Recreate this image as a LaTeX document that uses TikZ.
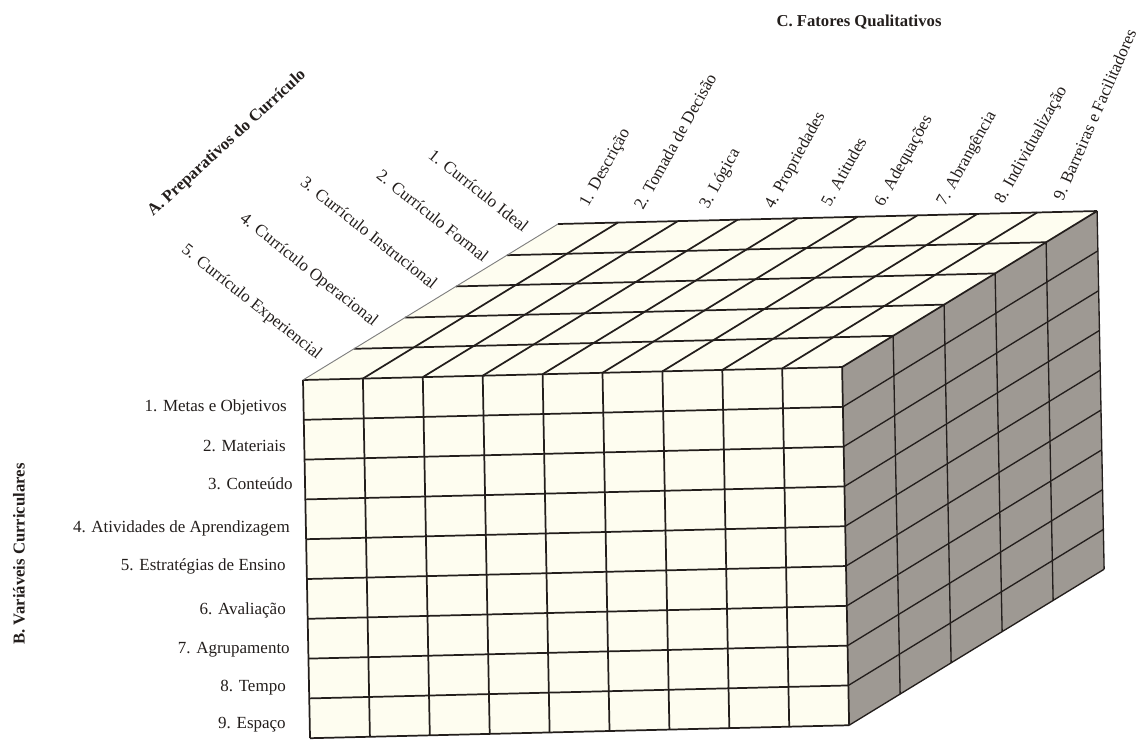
\documentclass[tikz,border=0pt]{standalone}
\usepackage{fontspec}
\setmainfont{Liberation Serif}
\definecolor{cream}{RGB}{254,253,240}
\definecolor{sidegray}{RGB}{158,153,147}
\definecolor{ink}{RGB}{35,30,28}
\begin{document}
\begin{tikzpicture}[x=0.75pt,y=-0.75pt,
  lbl/.style={font=\fontsize{12.75}{15}\selectfont, inner sep=0pt, text=ink},
  hdr/.style={font=\fontsize{12.5}{15}\selectfont\bfseries, inner sep=0pt, text=ink},
  alab/.style={lbl, anchor=base east, rotate=-38.5},
  clab/.style={lbl, anchor=base west, rotate=61},
  rlab/.style={lbl, anchor=base east},
  gridline/.style={draw=ink, line width=1.3pt},
  sideline/.style={draw=ink, line width=1pt}]
\useasboundingbox (0,0) rectangle (1148,742);
% cube
\begin{scope}[shift={(303,380)}, x={(44.925pt,1.08pt)}, y={(0.585pt,-29.85pt)}, z={(38.25pt,23.4pt)}]
  \fill[cream] (0,0,0) -- (9,0,0) -- (9,9,0) -- (0,9,0) -- cycle;
  \fill[cream] (0,0,0) -- (9,0,0) -- (9,0,5) -- (0,0,5) -- cycle;
  \fill[sidegray] (9,0,0) -- (9,0,5) -- (9,9,5) -- (9,9,0) -- cycle;
  \foreach \k in {1,...,5} \draw[sideline] (9,0,\k) -- (9,9,\k);
  \foreach \j in {1,...,9} \draw[sideline] (9,\j,0) -- (9,\j,5);
  \foreach \i in {1,...,9} \draw[gridline] (\i,0,0) -- (\i,0,5);
  \foreach \k in {1,...,5} \draw[gridline] (0,0,\k) -- (9,0,\k);
  \foreach \i in {0,...,9} \draw[gridline] (\i,0,0) -- (\i,9,0);
  \foreach \j in {0,...,9} \draw[gridline] (0,\j,0) -- (9,\j,0);
  \draw[gray, line width=0.7pt] (0,0,0) -- (0,0,5);
\end{scope}
% headers
\node[hdr] (hC) at (859,22) {C. Fatores Qualitativos};
\node[hdr, anchor=base west, rotate=42.6] (hA) at (153,217) {A. Preparativos do Currículo};
\node[hdr, rotate=90] (hB) at (19,554) {B. Variáveis Curriculares};
% A labels
\node[alab] (a1) at (523,233) {1. Currículo Ideal};
\node[alab] (a2) at (483,263) {2. Currículo Formal};
\node[alab] (a3) at (432,290) {3. Currículo Instrucional};
\node[alab] (a4) at (373,327) {4. Currículo Operacional};
\node[alab] (a5) at (317,360) {5. Currículo Experiencial};
% C labels
\node[clab] (c1) at (588,208) {1. Descrição};
\node[clab] (c2) at (643,211) {2. Tomada de Decisão};
\node[clab] (c3) at (708,210) {3. Lógica};
\node[clab] (c4) at (773,210) {4. Propriedades};
\node[clab] (c5) at (830,208) {5. Atitudes};
\node[clab] (c6) at (883,208) {6. Adequações};
\node[clab] (c7) at (945,207) {7. Abrangência};
\node[clab] (c8) at (1003,205) {8. Individualização};
\node[clab, rotate=5.5] (c9) at (1063,202) {9. Barreiras e Facilitadores};
% B labels
\node[rlab] (b1) at (287,411) {1. Metas e Objetivos};
\node[rlab] (b2) at (286,451) {2. Materiais};
\node[rlab] (b3) at (293,489) {3. Conteúdo};
\node[rlab] (b4) at (290,532) {4. Atividades de Aprendizagem};
\node[rlab] (b5) at (286,570) {5. Estratégias de Ensino};
\node[rlab] (b6) at (286,614) {6. Avaliação};
\node[rlab] (b7) at (290,653) {7. Agrupamento};
\node[rlab] (b8) at (286,691) {8. Tempo};
\node[rlab] (b9) at (286,728) {9. Espaço};
\end{tikzpicture}
\end{document}
